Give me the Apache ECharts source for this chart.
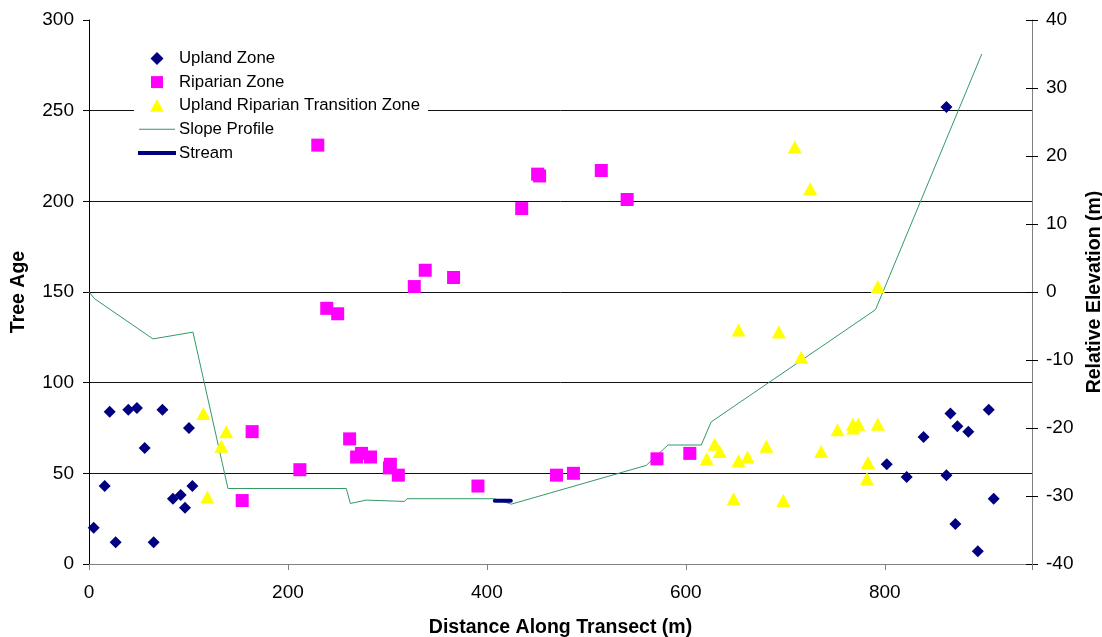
<!DOCTYPE html>
<html>
<head>
<meta charset="utf-8">
<script src="https://cdn.jsdelivr.net/npm/echarts@6/dist/echarts.min.js"></script>
<style>
  html, body { margin: 0; padding: 0; background: #fff; overflow: hidden; }
  #chart { width: 1102px; height: 637px; }
</style>
</head>
<body>
<div id="chart"></div>
<script>
// Tree ages by zone: [distance along transect (m), tree age (years)]
const uplandZone = [
  [4.7, 20], [15.8, 43], [20.8, 84], [26.8, 12], [39.5, 85], [48.2, 86], [56, 64],
  [65, 12], [73.8, 85], [84.4, 36], [92.2, 38], [96.5, 31], [100.5, 75], [103.9, 43],
  [802, 55], [822, 48], [839, 70], [862, 49], [862, 252], [866, 83], [871, 22],
  [873, 76], [884, 73], [893.5, 7], [904.5, 85], [909.5, 36]
];
const riparianZone = [
  [154, 35], [164, 73], [212, 52], [230, 231], [239, 141], [250, 138], [262, 69],
  [269, 59], [274, 61], [283, 59], [302, 53], [303, 55], [311, 49], [327, 153],
  [338, 162], [366.5, 158], [391, 43], [435, 196], [451, 215], [453, 214],
  [470, 49], [487, 50], [515, 217], [541, 201], [571, 58], [604, 61]
];
const transitionZone = [
  [115, 83], [119, 37], [133, 65], [138, 73], [621, 58], [629, 66], [634, 62],
  [648, 36], [653, 57], [653, 129], [662, 59], [681, 65], [693.5, 128], [698, 35],
  [709.5, 230], [716, 114], [725, 207], [736, 62], [752.5, 74], [768, 77],
  [768.5, 75], [773.5, 77], [782, 47], [783, 56], [793, 153], [793, 77]
];
// Ground surface: [distance (m), relative elevation (m)]
const slopeProfile = [
  [0, 0], [5.7, -1.0], [64.3, -6.9], [104.5, -5.9], [139.7, -28.9], [258.7, -28.9],
  [262.7, -31.1], [278.8, -30.6], [280.8, -30.8], [317.3, -30.8], [319.6, -30.4],
  [407.7, -30.4], [424.5, -31.2], [560.2, -25.5], [582, -22.5], [615.5, -22.5],
  [625.5, -19.1], [790.7, -2.6], [897.5, 35.0]
];
const stream = [[408, -30.7], [424, -30.7]];

const xTicks = { min: 0, max: 948, step: 200 };
const ageTicks = { min: 0, max: 300, step: 50 };
const elevTicks = { min: -40, max: 40, step: 10 };

const FONT = '"Liberation Sans", Arial, sans-serif';
const TICK_FONT = 19;
const TITLE_FONT = 19.5;
const chart = echarts.init(document.getElementById('chart'), null, { renderer: 'canvas' });

// one colour per horizontal grid line; the top edge has none
const gridColors = [];
for (let v = ageTicks.min; v <= ageTicks.max; v += ageTicks.step) {
  gridColors.push(v === ageTicks.max ? 'rgba(0,0,0,0)' : '#111');
}

// legend glyphs: the leading moves pin every glyph's box to 40 x 13
const BOX = 'path://M0,0M40,13';
const legendIcons = {
  diamond: BOX + 'M20,0L26.5,6.5L20,13L13.5,6.5Z',
  square: BOX + 'M14,0.5H26V12.5H14Z',
  triangle: BOX + 'M20,0L27,12.5H13Z',
  thinLine: BOX + 'M2,6H38V7H2Z',
  thickLine: BOX + 'M1,4.5H39V8.5H1Z'
};

chart.setOption({
  animation: false,
  backgroundColor: '#fff',
  textStyle: { fontFamily: FONT, color: '#000' },
  grid: { left: 89, right: 70, top: 20, bottom: 73, containLabel: false, outerBoundsMode: 'none' },
  legend: {
    orient: 'vertical',
    left: 134,
    top: 48,
    backgroundColor: '#fff',
    padding: [2, 8, 2, 3],
    itemWidth: 40,
    itemHeight: 13,
    itemGap: 6.6,
    symbolKeepAspect: false,
    textStyle: { fontFamily: FONT, fontSize: 16.8, color: '#000', padding: [0, 0, 0, -3] },
    data: [
      { name: 'Upland Zone', icon: legendIcons.diamond },
      { name: 'Riparian Zone', icon: legendIcons.square },
      { name: 'Upland Riparian Transition Zone', icon: legendIcons.triangle },
      { name: 'Slope Profile', icon: legendIcons.thinLine },
      { name: 'Stream', icon: legendIcons.thickLine }
    ]
  },
  xAxis: {
    type: 'value',
    min: xTicks.min, max: xTicks.max, interval: xTicks.step,
    name: 'Distance Along Transect (m)',
    nameLocation: 'middle',
    nameGap: 54,
    nameTextStyle: { fontFamily: FONT, fontWeight: 'bold', fontSize: TITLE_FONT, color: '#000' },
    axisLine: { show: true, onZero: false, lineStyle: { color: '#808080', width: 1 } },
    axisTick: { show: true, length: 6, lineStyle: { color: '#808080' } },
    axisLabel: {
      fontFamily: FONT, fontSize: TICK_FONT, color: '#000', margin: 19,
      formatter: v => (v % xTicks.step === 0 ? String(v) : '')
    },
    splitLine: { show: false }
  },
  yAxis: [
    {
      type: 'value',
      min: ageTicks.min, max: ageTicks.max, interval: ageTicks.step,
      name: 'Tree Age',
      nameLocation: 'middle',
      nameGap: 60,
      nameRotate: 90,
      nameTextStyle: { fontFamily: FONT, fontWeight: 'bold', fontSize: TITLE_FONT, color: '#000' },
      axisLine: { show: true, lineStyle: { color: '#000', width: 1 } },
      axisTick: { show: true, length: 6, lineStyle: { color: '#000' } },
      axisLabel: { fontFamily: FONT, fontSize: TICK_FONT, color: '#000', margin: 15 },
      splitLine: { show: true, lineStyle: { color: gridColors, width: 1 } }
    },
    {
      type: 'value',
      position: 'right',
      min: elevTicks.min, max: elevTicks.max, interval: elevTicks.step,
      name: 'Relative Elevation (m)',
      nameLocation: 'middle',
      nameGap: 50,
      nameRotate: 90,
      nameTextStyle: { fontFamily: FONT, fontWeight: 'bold', fontSize: TITLE_FONT, color: '#000' },
      axisLine: { show: true, lineStyle: { color: '#808080', width: 1 } },
      axisTick: { show: true, length: 6, lineStyle: { color: '#000' } },
      axisLabel: { fontFamily: FONT, fontSize: TICK_FONT, color: '#000', margin: 14 },
      splitLine: { show: false }
    },
    {
      // inner half of the cross ticks on the elevation axis
      type: 'value',
      position: 'right',
      min: elevTicks.min, max: elevTicks.max, interval: elevTicks.step,
      axisLine: { show: false },
      axisTick: { show: true, inside: true, length: 6, lineStyle: { color: '#000' } },
      axisLabel: { show: false },
      splitLine: { show: false }
    }
  ],
  series: [
    {
      name: 'Slope Profile',
      type: 'line',
      yAxisIndex: 1,
      data: slopeProfile,
      showSymbol: false,
      symbol: 'none',
      lineStyle: { color: '#339966', width: 1 },
      itemStyle: { color: '#339966' },
      z: 2
    },
    {
      name: 'Stream',
      type: 'line',
      yAxisIndex: 1,
      data: stream,
      showSymbol: false,
      symbol: 'none',
      lineStyle: { color: '#000080', width: 4, cap: 'round' },
      itemStyle: { color: '#000080' },
      z: 3
    },
    {
      name: 'Upland Zone',
      type: 'scatter',
      yAxisIndex: 0,
      data: uplandZone,
      symbol: 'diamond',
      symbolSize: 12,
      itemStyle: { color: '#000080', opacity: 1 },
      z: 4
    },
    {
      name: 'Riparian Zone',
      type: 'scatter',
      yAxisIndex: 0,
      data: riparianZone,
      symbol: 'rect',
      symbolSize: 13,
      itemStyle: { color: '#FF00FF', opacity: 1 },
      z: 4
    },
    {
      name: 'Upland Riparian Transition Zone',
      type: 'scatter',
      yAxisIndex: 0,
      data: transitionZone,
      symbol: 'triangle',
      symbolSize: [14, 13],
      itemStyle: { color: '#FFFF00', opacity: 1 },
      z: 4
    }
  ]
});
</script>
</body>
</html>
